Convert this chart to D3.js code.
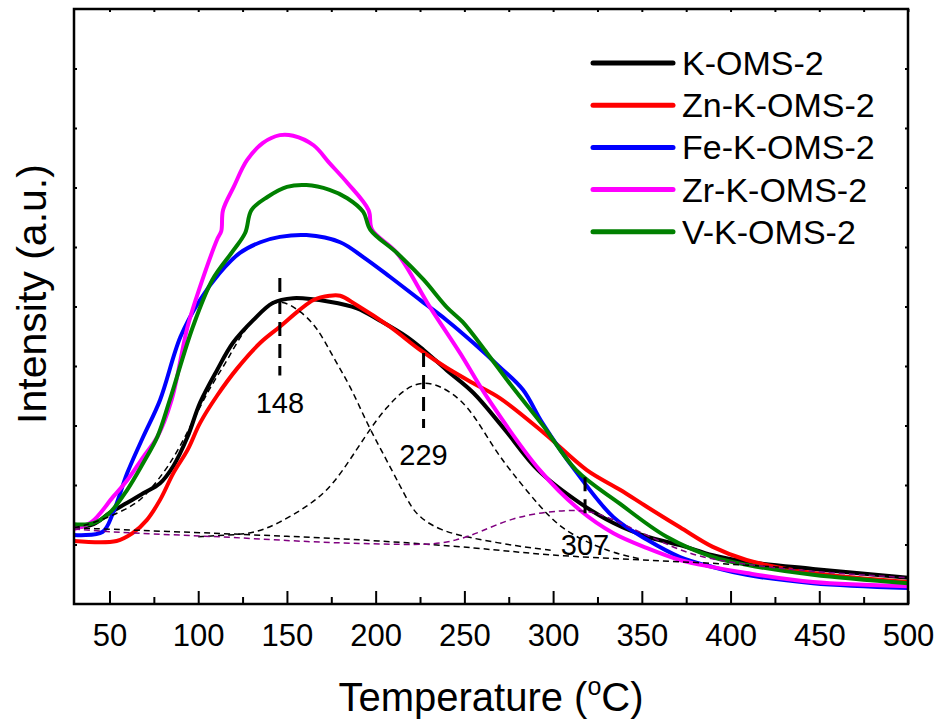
<!DOCTYPE html>
<html>
<head>
<meta charset="utf-8">
<script src="https://cdn.jsdelivr.net/npm/d3@7"></script>
<style>
  html, body { margin: 0; padding: 0; background: #fff; }
  svg { display: block; font-family: "Liberation Sans", Arial, sans-serif; }
</style>
</head>
<body>
<div id="chart"></div>
<script>
// [temperature °C, intensity a.u.]
const kOms2 = [
  [30, 1.29], [41, 1.34], [50, 1.53], [60, 1.70], [69, 1.86], [78.5, 2.03], [86, 2.32],
  [94, 2.81], [101, 3.38], [110.6, 3.93], [119.6, 4.39], [131, 4.77], [142, 5.06],
  [153.5, 5.14], [174, 5.08], [189.5, 4.97], [202, 4.77], [217.6, 4.49], [227, 4.27],
  [240, 3.93], [255, 3.55], [272, 2.96], [291.5, 2.25], [315, 1.70], [334, 1.36],
  [353, 1.13], [371.5, 0.99], [390, 0.82], [409, 0.71], [446.5, 0.59], [500, 0.44],
];
const znKOms2 = [
  [30, 1.06], [54, 1.06], [63, 1.19], [71, 1.41], [78.5, 1.75], [86, 2.2], [94, 2.59],
  [101, 3.04], [110.6, 3.5], [122, 3.96], [135, 4.39], [146, 4.66],
  [157, 4.94], [165, 5.11], [174, 5.18], [180, 5.18], [189, 5.03], [208, 4.66],
  [225, 4.27], [240, 3.97], [255, 3.71], [270, 3.46], [295, 2.87], [319, 2.25],
  [337.7, 1.92], [353, 1.63], [371.5, 1.29], [390, 0.96], [409, 0.74], [446.5, 0.52],
  [500, 0.37],
];
const feKOms2 = [
  [30, 1.16], [46, 1.21], [52, 1.53], [60, 2.2], [69, 2.81], [78.5, 3.43], [90, 4.49],
  [101, 5.11], [112, 5.56], [123.5, 5.9], [135, 6.08], [146, 6.17], [161, 6.2],
  [180, 6.08], [193, 5.83], [208, 5.5], [225, 5.11], [240, 4.77], [255, 4.39],
  [270, 3.98], [283, 3.6], [294, 3.04], [313, 2.22], [334, 1.46], [353, 1.08],
  [371.5, 0.79], [390, 0.62], [409, 0.49], [446.5, 0.35], [500, 0.27],
];
const zrKOms2 = [
  [30, 1.26], [40, 1.38], [52, 1.8], [60, 2.08], [69, 2.47], [77, 2.81], [85, 3.43],
  [94, 4.66], [101, 5.33], [111, 6.15], [113, 6.27], [114, 6.62], [120, 7.01],
  [127.5, 7.46], [136.5, 7.75], [146, 7.88], [153.5, 7.87], [165, 7.71], [174, 7.41],
  [184, 7.08], [196, 6.62], [198, 6.29], [212, 5.9], [230.6, 4.99], [247.5, 4.22],
  [262.7, 3.48], [292.5, 2.25], [315, 1.58], [334, 1.19], [353, 0.94], [371.5, 0.74],
  [390, 0.62], [409, 0.52], [446.5, 0.37], [500, 0.30],
];
const vKOms2 = [
  [30, 1.34], [41, 1.36], [50, 1.53], [60, 1.92], [69, 2.37], [77, 2.81], [84, 3.43],
  [97, 4.66], [108, 5.45], [120, 5.95], [126.5, 6.24], [130, 6.62], [139, 6.84],
  [150, 7.01], [161, 7.04], [174, 6.96], [184, 6.82], [193, 6.59], [197, 6.29],
  [212, 5.9], [227, 5.45], [240, 4.99], [249, 4.74], [262.7, 4.22], [277, 3.65],
  [294, 3.01], [313, 2.25], [337, 1.70], [364, 1.13], [390, 0.79], [409, 0.66],
  [446.5, 0.49], [500, 0.35],
];

// deconvoluted K-OMS-2 components (dashed)
const fitBaseline = [
  [30, 1.28], [100, 1.2], [150, 1.14], [200, 1.07], [259, 0.94], [296, 0.82],
  [349, 0.74], [409, 0.66], [450, 0.57], [500, 0.45],
];
const fitPeak148 = [
  [30, 1.28], [41, 1.36], [55, 1.53], [66, 1.7], [73, 1.92], [83, 2.3], [92, 2.76],
  [105.6, 3.6], [115, 4.02], [124, 4.52], [132, 4.81], [140, 5.03], [147, 5.11],
  [157, 4.94], [167, 4.66], [176, 4.15], [186, 3.65], [195, 3.04], [204, 2.54],
  [214, 1.97], [220, 1.63], [225, 1.45], [236, 1.24], [253, 1.11], [280, 0.97], [300, 0.9],
];
const fitPeak229 = [
  [100, 1.13], [116, 1.16], [131, 1.18], [145, 1.35], [161, 1.63], [176, 1.97],
  [195, 2.87], [206, 3.31], [217.6, 3.65], [227, 3.73], [236, 3.68], [251.5, 3.38],
  [266, 2.64], [275.7, 2.25], [292.6, 1.63], [305.6, 1.24], [324.7, 0.96], [339, 0.82],
  [349, 0.76],
];
const fitPeak307 = [
  [30, 1.26], [60, 1.19], [116, 1.13], [163, 1.04], [200, 1.01], [230, 0.99],
  [245, 1.06], [259, 1.21], [277, 1.45], [296.5, 1.55], [311, 1.58], [324.7, 1.55],
  [343, 1.29], [362, 1.03], [381, 0.79], [409, 0.66], [446.5, 0.54], [500, 0.44],
];

const seriesNames = ["K-OMS-2", "Zn-K-OMS-2", "Fe-K-OMS-2", "Zr-K-OMS-2", "V-K-OMS-2"];
const seriesColors = ["#000000", "#ff0000", "#0000ff", "#ff00ff", "#008000"];
const seriesData = [kOms2, znKOms2, feKOms2, zrKOms2, vKOms2];

const peakLabels = ["148", "229", "307"];
const peakTemps = [146, 227, 318];
const peakMarkTop = [5.48, 4.22, 2.13];
const peakMarkBottom = [3.84, 2.96, 1.45];

const majorTicks = d3.range(50, 501, 50);
const minorTicks = d3.range(75, 500, 50);
const yTicks = d3.range(1, 10);

const width = 943;
const height = 727;
const marginTop = 9;
const marginRight = 35;
const marginBottom = 123;
const marginLeft = 74;

const x = d3.scaleLinear().domain([30, 500]).range([marginLeft, width - marginRight]);
const y = d3.scaleLinear().domain([0, 10]).range([height - marginBottom, marginTop]);

const svg = d3
  .select("#chart")
  .append("svg")
  .attr("width", width)
  .attr("height", height)
  .attr("viewBox", [0, 0, width, height]);

const line = d3
  .line()
  .x((d) => x(d[0]))
  .y((d) => y(d[1]))
  .curve(d3.curveCatmullRom.alpha(0.5));

const smoothLine = d3
  .line()
  .x((d) => x(d[0]))
  .y((d) => y(d[1]))
  .curve(d3.curveBasis);

// profiles
svg
  .append("g")
  .attr("fill", "none")
  .attr("stroke-width", 4)
  .attr("stroke-linejoin", "round")
  .selectAll("path")
  .data(seriesData)
  .join("path")
  .attr("stroke", (d, i) => seriesColors[i])
  .attr("d", line);

// fitted components
const fits = svg.append("g").attr("fill", "none").attr("stroke-width", 1.5).attr("stroke-dasharray", "6,4");
fits
  .selectAll("path")
  .data([fitBaseline, fitPeak148, fitPeak229])
  .join("path")
  .attr("stroke", "#000")
  .attr("d", smoothLine);
fits.append("path").datum(fitPeak307).attr("stroke", "#800080").attr("d", smoothLine);

// peak markers
svg
  .append("g")
  .attr("stroke", "#000")
  .attr("stroke-width", 3)
  .attr("stroke-dasharray", "14,8")
  .selectAll("line")
  .data(peakTemps)
  .join("line")
  .attr("x1", (d) => x(d))
  .attr("x2", (d) => x(d))
  .attr("y1", (d, i) => y(peakMarkTop[i]))
  .attr("y2", (d, i) => y(peakMarkBottom[i]));
svg
  .append("g")
  .attr("font-size", 29)
  .attr("text-anchor", "middle")
  .selectAll("text")
  .data(peakTemps)
  .join("text")
  .attr("x", (d) => x(d))
  .attr("y", (d, i) => y(peakMarkBottom[i]) + 37)
  .text((d, i) => peakLabels[i]);

// axes
const axisStyle = (g) => {
  g.select(".domain").remove();
  g.selectAll(".tick line").attr("stroke", "#000").attr("stroke-width", 2);
};
svg
  .append("g")
  .attr("transform", `translate(0,${y(0)})`)
  .call(d3.axisBottom(x).tickValues(majorTicks).tickSize(-13).tickPadding(20).tickFormat(d3.format("d")))
  .call(axisStyle)
  .call((g) => g.selectAll("text").attr("font-size", 31).attr("fill", "#000"));
svg
  .append("g")
  .attr("transform", `translate(0,${y(0)})`)
  .call(d3.axisBottom(x).tickValues(minorTicks).tickSize(-7).tickFormat(""))
  .call(axisStyle);
svg
  .append("g")
  .attr("transform", `translate(0,${y(10)})`)
  .call(d3.axisTop(x).tickValues(majorTicks.concat(minorTicks)).tickSize(-3).tickFormat(""))
  .call(axisStyle);
svg
  .append("g")
  .attr("transform", `translate(${x(30)},0)`)
  .call(d3.axisLeft(y).tickValues(yTicks).tickSize(-3).tickFormat(""))
  .call(axisStyle);
svg
  .append("g")
  .attr("transform", `translate(${x(500)},0)`)
  .call(d3.axisRight(y).tickValues(yTicks).tickSize(-3).tickFormat(""))
  .call(axisStyle);

svg
  .append("rect")
  .attr("x", x(30))
  .attr("y", y(10))
  .attr("width", x(500) - x(30))
  .attr("height", y(0) - y(10))
  .attr("fill", "none")
  .attr("stroke", "#000")
  .attr("stroke-width", 2.5);

// axis titles
const xTitle = svg
  .append("text")
  .attr("x", (x(30) + x(500)) / 2)
  .attr("y", 711)
  .attr("text-anchor", "middle")
  .attr("font-size", 40);
xTitle.append("tspan").text("Temperature (");
xTitle.append("tspan").attr("font-size", 25).attr("dy", -16).text("o");
xTitle.append("tspan").attr("dy", 16).text("C)");

svg
  .append("text")
  .attr("transform", "translate(46,294) rotate(-90)")
  .attr("text-anchor", "middle")
  .attr("font-size", 41)
  .text("Intensity (a.u.)");

// legend
const legend = svg
  .append("g")
  .selectAll("g")
  .data(seriesNames)
  .join("g")
  .attr("transform", (d, i) => `translate(593,${63 + i * 42.2})`);
legend
  .append("line")
  .attr("x2", 80)
  .attr("stroke", (d, i) => seriesColors[i])
  .attr("stroke-width", 5)
  .attr("stroke-linecap", "round");
legend
  .append("text")
  .attr("x", 89)
  .attr("y", 12)
  .attr("font-size", 34)
  .text((d) => d);
</script>
</body>
</html>
